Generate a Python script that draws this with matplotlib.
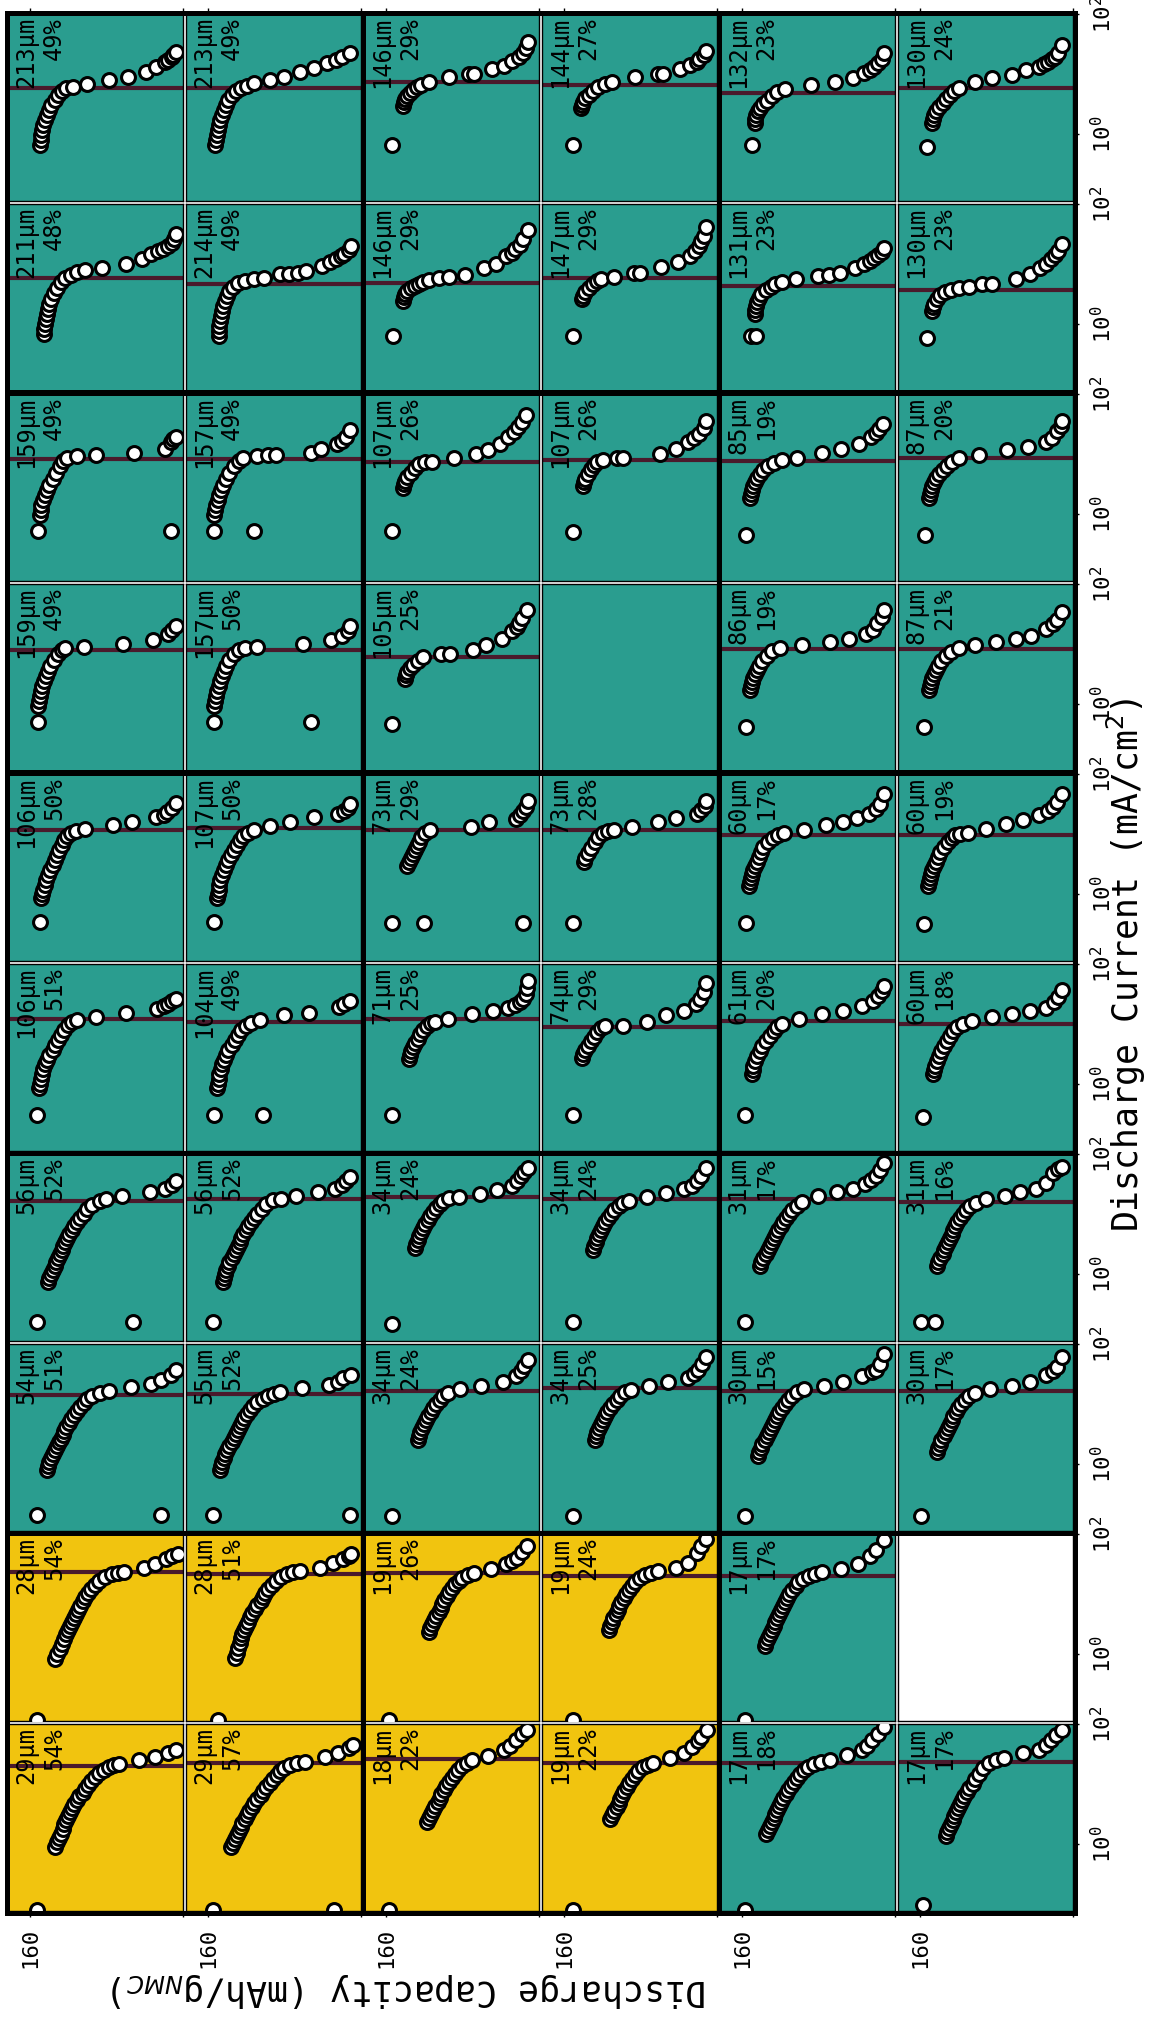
import matplotlib
matplotlib.use("Agg")
import matplotlib.pyplot as plt
from matplotlib.patches import Rectangle
from matplotlib.ticker import NullLocator

plt.rcParams["font.family"] = "DejaVu Sans Mono"

# ---------------------------------------------------------------- data
# grid of panels: 10 rows (top -> bottom) x 6 columns (left -> right)
thickness_um = [
    [213, 213, 146, 144, 132, 130],
    [211, 214, 146, 147, 131, 130],
    [159, 157, 107, 107, 85, 87],
    [159, 157, 105, None, 86, 87],
    [106, 107, 73, 73, 60, 60],
    [106, 104, 71, 74, 61, 60],
    [56, 56, 34, 34, 31, 31],
    [54, 55, 34, 34, 30, 30],
    [28, 28, 19, 19, 17, None],
    [29, 29, 18, 19, 17, 17],
]
percent = [
    [49, 49, 29, 27, 23, 24],
    [48, 49, 29, 29, 23, 23],
    [49, 49, 26, 26, 19, 20],
    [49, 50, 25, None, 19, 21],
    [50, 50, 29, 28, 17, 19],
    [51, 49, 25, 29, 20, 18],
    [52, 52, 24, 24, 17, 16],
    [51, 52, 24, 25, 15, 17],
    [54, 51, 26, 24, 17, None],
    [54, 57, 22, 22, 18, 17],
]
# current marked by the horizontal line in each panel (mA/cm2)
marker_current = [
    [5.84, 5.84, 7.36, 6.56, 4.82, 5.84],
    [5.84, 4.64, 4.82, 5.84, 4.30, 3.69],
    [8.25, 8.25, 7.36, 7.94, 7.64, 8.58],
    [7.94, 7.94, 6.07, None, 8.25, 8.25],
    [11.7, 12.6, 11.7, 11.7, 9.62, 9.62],
    [12.1, 10.8, 12.1, 8.91, 11.2, 10.0],
    [16.5, 17.8, 19.2, 17.8, 17.8, 15.8],
    [14.1, 14.7, 16.5, 18.5, 16.5, 16.5],
    [23.3, 21.5, 22.4, 20.0, 20.0, None],
    [20.0, 22.4, 26.1, 22.4, 22.4, 23.3],
]
# electrode family: "A" teal panels, "B" yellow panels
family = [
    ["A"] * 6, ["A"] * 6, ["A"] * 6, ["A"] * 6, ["A"] * 6,
    ["A"] * 6, ["A"] * 6, ["A"] * 6,
    ["B", "B", "B", "B", "A", None],
    ["B", "B", "B", "B", "A", "A"],
]

# discharge capacity (mAh/g) and discharge current (mA/cm2) per panel
cap_r0c0 = [150, 149, 148, 147, 146, 144, 142, 140, 138, 134, 131, 127, 122, 115, 100, 77, 57, 39, 28, 19, 16, 12, 10, 7]
cur_r0c0 = [0.656, 0.794, 0.962, 1.17, 1.41, 1.71, 2.07, 2.51, 3.04, 3.69, 4.47, 5.21, 5.84, 6.07, 6.81, 7.94, 8.91, 10.8, 13.1, 15.8, 17.1, 19.2, 20.7, 23.3]
cap_r0c1 = [153, 152, 151, 150, 149, 147, 145, 143, 141, 139, 135, 131, 126, 119, 112, 95, 81, 64, 49, 36, 26, 20, 12]
cur_r0c1 = [0.656, 0.794, 0.962, 1.17, 1.41, 1.71, 2.07, 2.51, 3.04, 3.69, 4.47, 5.21, 5.84, 6.31, 7.08, 7.94, 8.91, 10.8, 12.6, 15.3, 17.1, 19.2, 22.4]
cap_r0c2 = [154, 142, 141, 140, 138, 135, 132, 128, 123, 115, 94, 73, 68, 49, 37, 28, 21, 17, 14, 11]
cur_r0c2 = [0.656, 2.93, 3.41, 3.83, 4.30, 4.82, 5.41, 6.07, 6.56, 7.36, 8.91, 10.0, 10.0, 12.1, 13.6, 16.5, 19.2, 22.4, 27.1, 34.1]
cap_r0c3 = [151, 142, 141, 140, 138, 134, 130, 124, 117, 110, 86, 62, 56, 39, 28, 21, 19, 14, 12]
cur_r0c3 = [0.656, 2.71, 3.04, 3.41, 3.98, 4.47, 5.21, 6.07, 6.81, 7.36, 8.91, 10.0, 10.0, 12.1, 14.1, 15.8, 17.8, 20.7, 24.2]
cap_r0c4 = [150, 146, 146, 145, 143, 141, 138, 134, 129, 123, 115, 88, 63, 44, 32, 26, 22, 18, 14, 11]
cur_r0c4 = [0.656, 1.53, 1.78, 2.07, 2.42, 2.71, 3.16, 3.55, 4.30, 5.01, 5.62, 6.56, 7.36, 8.58, 10.4, 11.7, 13.1, 15.3, 17.8, 22.4]
cap_r0c5 = [153, 147, 146, 145, 143, 140, 136, 133, 129, 124, 119, 103, 85, 64, 49, 36, 30, 26, 22, 19, 16, 12]
cur_r0c5 = [0.607, 1.53, 1.78, 2.07, 2.42, 2.82, 3.29, 3.83, 4.47, 5.21, 5.84, 7.36, 8.58, 9.62, 11.7, 13.1, 14.7, 15.8, 17.8, 19.2, 22.4, 30.4]

cap_r1c0 = [145, 145, 144, 143, 142, 141, 140, 138, 135, 132, 128, 123, 117, 111, 103, 85, 60, 43, 33, 26, 21, 16, 12, 9, 7]
cur_r1c0 = [0.681, 0.825, 1.00, 1.21, 1.47, 1.78, 2.15, 2.61, 3.29, 3.98, 5.01, 5.84, 6.56, 7.36, 7.94, 8.58, 10.0, 12.1, 14.7, 16.5, 17.8, 20.0, 22.4, 26.1, 31.6]
cap_r1c1 = [148, 148, 148, 147, 146, 145, 144, 142, 140, 138, 134, 129, 121, 112, 101, 85, 75, 66, 57, 41, 32, 26, 21, 18, 13, 10]
cur_r1c1 = [0.631, 0.764, 0.926, 1.12, 1.36, 1.65, 2.00, 2.42, 2.93, 3.55, 4.14, 4.82, 5.21, 5.62, 5.84, 6.81, 6.81, 7.08, 7.64, 9.26, 10.8, 12.1, 13.6, 14.7, 17.1, 20.0]
cap_r1c2 = [153, 142, 141, 140, 138, 134, 130, 126, 121, 115, 105, 94, 77, 58, 45, 34, 28, 25, 20, 17, 12]
cur_r1c2 = [0.631, 2.42, 2.82, 3.16, 3.55, 3.98, 4.30, 4.64, 5.01, 5.41, 5.84, 6.07, 6.56, 8.58, 10.0, 13.6, 15.3, 17.8, 20.7, 26.1, 36.9]
cap_r1c3 = [151, 141, 140, 138, 134, 130, 126, 121, 108, 87, 80, 59, 41, 28, 23, 19, 17, 14, 12]
cur_r1c3 = [0.631, 2.61, 2.93, 3.41, 3.98, 4.64, 5.21, 5.62, 6.07, 7.08, 7.08, 8.91, 10.8, 13.6, 16.5, 20.0, 24.2, 29.3, 41.4]
cap_r1c4 = [151, 145, 146, 146, 145, 144, 142, 140, 135, 130, 125, 118, 104, 81, 69, 57, 42, 32, 26, 22, 18, 14, 11]
cur_r1c4 = [0.631, 0.631, 1.47, 1.71, 2.00, 2.33, 2.71, 3.16, 3.69, 4.14, 4.64, 5.01, 5.62, 6.31, 6.56, 7.08, 8.58, 10.0, 11.2, 12.6, 14.1, 15.8, 18.5]
cap_r1c5 = [153, 147, 146, 145, 142, 139, 134, 128, 119, 109, 95, 85, 60, 45, 34, 28, 23, 19, 16, 12]
cur_r1c5 = [0.584, 1.65, 1.92, 2.15, 2.61, 3.04, 3.41, 3.69, 3.98, 4.14, 4.64, 4.64, 5.62, 6.81, 8.58, 10.0, 12.1, 14.1, 16.5, 21.5]

cap_r2c0 = [152, 13, 150, 149, 148, 146, 144, 142, 140, 136, 133, 129, 125, 121, 111, 91, 51, 19, 13, 10, 7]
cur_r2c0 = [0.521, 0.521, 0.962, 1.17, 1.41, 1.71, 2.07, 2.51, 3.04, 3.83, 4.82, 6.31, 7.64, 8.58, 9.26, 9.62, 10.4, 12.1, 15.8, 17.8, 19.2]
cap_r2c1 = [154, 112, 154, 153, 152, 150, 148, 146, 144, 141, 138, 133, 128, 123, 109, 97, 89, 52, 42, 25, 20, 16, 11]
cur_r2c1 = [0.521, 0.521, 0.962, 1.17, 1.41, 1.71, 2.07, 2.51, 3.04, 3.83, 4.82, 6.31, 7.64, 8.58, 9.26, 9.62, 9.62, 10.4, 12.1, 14.7, 16.5, 19.2, 25.1]
cap_r2c2 = [154, 142, 141, 140, 138, 134, 130, 126, 119, 112, 89, 66, 53, 41, 32, 26, 22, 18, 14]
cur_r2c2 = [0.521, 2.71, 3.16, 3.55, 4.14, 4.82, 5.84, 6.81, 7.36, 7.36, 8.58, 10.0, 11.7, 14.7, 19.2, 23.3, 28.2, 34.1, 44.7]
cap_r2c3 = [151, 140, 139, 138, 135, 132, 129, 126, 119, 105, 98, 60, 43, 30, 24, 19, 14, 11]
cur_r2c3 = [0.501, 2.93, 3.41, 3.83, 4.64, 5.62, 6.56, 7.36, 7.94, 8.58, 8.58, 10.0, 12.1, 15.8, 18.5, 21.5, 27.1, 35.5]
cap_r2c4 = [156, 152, 151, 150, 148, 146, 144, 141, 138, 133, 127, 118, 102, 76, 56, 38, 25, 20, 17, 13]
cur_r2c4 = [0.447, 1.85, 2.15, 2.51, 2.93, 3.41, 3.98, 4.64, 5.41, 6.31, 7.08, 7.94, 8.58, 10.4, 12.1, 14.7, 19.2, 22.4, 26.1, 31.6]
cap_r2c5 = [155, 151, 150, 149, 147, 145, 143, 140, 136, 132, 127, 119, 98, 69, 47, 28, 22, 17, 13, 11]
cur_r2c5 = [0.447, 1.85, 2.15, 2.51, 2.93, 3.41, 3.98, 4.64, 5.41, 6.31, 7.36, 8.58, 9.62, 11.7, 13.1, 15.8, 18.5, 24.2, 29.3, 35.5]

cap_r3c0 = [152, 152, 151, 150, 148, 147, 145, 143, 141, 139, 135, 131, 127, 123, 104, 63, 31, 16, 11, 7]
cur_r3c0 = [0.501, 0.926, 1.12, 1.36, 1.65, 2.00, 2.42, 2.93, 3.55, 4.30, 5.41, 6.81, 7.94, 8.58, 8.91, 10.0, 11.7, 14.7, 17.1, 20.0]
cap_r3c1 = [154, 52, 154, 153, 152, 151, 149, 147, 145, 143, 141, 138, 133, 128, 121, 109, 61, 31, 20, 14, 11]
cur_r3c1 = [0.501, 0.501, 0.926, 1.12, 1.36, 1.65, 2.00, 2.42, 2.93, 3.55, 4.30, 5.41, 6.81, 7.94, 8.58, 8.91, 10.0, 11.7, 13.6, 16.5, 20.0]
cap_r3c2 = [154, 140, 139, 138, 135, 132, 127, 121, 102, 93, 69, 55, 39, 28, 23, 21, 18, 13]
cur_r3c2 = [0.464, 2.61, 3.04, 3.41, 3.98, 4.47, 5.21, 6.07, 6.81, 6.81, 7.94, 9.62, 12.1, 16.5, 19.2, 22.4, 27.1, 36.9]
cap_r3c4 = [156, 152, 151, 150, 148, 146, 144, 142, 139, 134, 129, 120, 97, 68, 48, 30, 23, 19, 14, 11]
cur_r3c4 = [0.414, 1.71, 2.00, 2.33, 2.71, 3.16, 3.69, 4.30, 5.21, 6.31, 7.64, 8.58, 9.62, 10.8, 12.1, 14.7, 17.1, 22.4, 28.2, 36.9]
cap_r3c5 = [156, 151, 150, 149, 147, 145, 143, 141, 138, 133, 128, 119, 102, 81, 60, 44, 28, 21, 17, 11]
cur_r3c5 = [0.414, 1.71, 2.00, 2.33, 2.71, 3.16, 3.69, 4.30, 5.21, 6.31, 7.36, 8.58, 9.62, 10.8, 12.1, 13.6, 17.8, 21.5, 25.1, 34.1]

cap_r4c0 = [150, 148, 147, 146, 144, 143, 141, 139, 136, 134, 132, 130, 127, 124, 121, 117, 112, 102, 73, 53, 28, 20, 17, 12, 7]
cur_r4c0 = [0.341, 0.858, 1.00, 1.17, 1.41, 1.71, 2.07, 2.51, 3.04, 3.69, 4.47, 5.41, 6.56, 7.94, 9.26, 10.4, 11.2, 12.1, 14.1, 15.8, 19.2, 20.7, 23.3, 27.1, 32.9]
cap_r4c1 = [154, 151, 150, 149, 148, 147, 145, 143, 141, 139, 136, 133, 130, 127, 123, 118, 112, 95, 74, 49, 24, 18, 14, 11]
cur_r4c1 = [0.341, 0.858, 1.00, 1.17, 1.41, 1.71, 2.07, 2.51, 3.04, 3.69, 4.47, 5.41, 6.56, 7.94, 9.26, 10.4, 11.7, 13.6, 15.8, 19.2, 21.5, 24.2, 27.1, 31.6]
cap_r4c2 = [154, 120, 17, 138, 136, 134, 132, 130, 128, 126, 123, 119, 114, 71, 52, 24, 20, 17, 14, 12]
cur_r4c2 = [0.329, 0.329, 0.329, 2.93, 3.41, 3.98, 4.64, 5.41, 6.31, 7.36, 8.91, 10.4, 11.7, 13.1, 15.8, 17.8, 20.7, 24.2, 28.2, 35.5]
cap_r4c3 = [151, 139, 138, 135, 132, 128, 124, 119, 114, 108, 89, 62, 43, 21, 17, 13, 11]
cur_r4c3 = [0.329, 3.41, 3.98, 4.82, 5.84, 7.36, 8.91, 10.4, 11.2, 11.7, 13.1, 15.8, 18.5, 21.5, 25.1, 29.3, 35.5]
cap_r4c4 = [156, 153, 152, 151, 150, 148, 146, 144, 142, 140, 138, 133, 128, 122, 116, 95, 72, 54, 40, 27, 20, 16, 11]
cur_r4c4 = [0.329, 1.36, 1.58, 1.85, 2.15, 2.51, 2.93, 3.41, 4.14, 5.01, 6.07, 7.36, 8.58, 9.62, 10.4, 11.7, 14.1, 15.8, 18.5, 21.5, 26.1, 31.6, 46.4]
cap_r4c5 = [156, 152, 151, 150, 149, 147, 145, 143, 141, 139, 135, 131, 127, 123, 118, 110, 91, 70, 52, 36, 26, 21, 17, 11]
cur_r4c5 = [0.316, 1.36, 1.58, 1.85, 2.15, 2.51, 2.93, 3.41, 4.14, 5.01, 6.07, 7.36, 8.58, 9.62, 10.0, 10.4, 12.1, 14.7, 17.1, 20.7, 24.2, 28.2, 34.1, 46.4]

cap_r5c0 = [153, 151, 150, 149, 147, 146, 144, 142, 140, 136, 134, 131, 128, 124, 120, 116, 111, 91, 60, 27, 20, 16, 11, 7]
cur_r5c0 = [0.304, 0.858, 1.00, 1.21, 1.47, 1.78, 2.15, 2.51, 3.04, 3.69, 4.47, 5.41, 6.56, 7.94, 9.62, 10.8, 11.7, 13.1, 15.3, 17.8, 20.0, 21.5, 24.2, 26.1]
cap_r5c1 = [154, 102, 151, 150, 149, 148, 146, 145, 143, 141, 139, 135, 132, 129, 125, 120, 115, 106, 80, 54, 23, 18, 11]
cur_r5c1 = [0.304, 0.304, 0.858, 1.00, 1.21, 1.47, 1.78, 2.15, 2.51, 3.04, 3.69, 4.47, 5.41, 6.56, 7.94, 9.26, 10.4, 11.7, 14.1, 15.3, 19.2, 21.5, 24.2]
cap_r5c2 = [154, 136, 135, 134, 132, 130, 127, 124, 121, 117, 113, 109, 95, 70, 48, 32, 25, 20, 17, 14, 13, 12]
cur_r5c2 = [0.304, 2.61, 3.04, 3.55, 4.14, 4.82, 5.62, 6.81, 7.94, 9.26, 10.4, 10.8, 12.1, 14.7, 16.5, 18.5, 20.7, 23.3, 26.1, 31.6, 39.8, 52.1]
cap_r5c3 = [151, 141, 140, 138, 135, 132, 129, 125, 121, 117, 98, 73, 53, 35, 22, 18, 14, 12]
cur_r5c3 = [0.304, 2.71, 3.16, 3.69, 4.30, 5.21, 6.07, 7.36, 8.58, 9.26, 9.26, 10.8, 14.1, 16.5, 21.5, 26.1, 34.1, 48.2]
cap_r5c4 = [157, 150, 149, 148, 146, 144, 141, 139, 135, 131, 127, 123, 118, 100, 76, 54, 34, 23, 18, 14, 11]
cur_r5c4 = [0.304, 1.47, 1.71, 2.00, 2.42, 2.93, 3.55, 4.30, 5.21, 6.31, 7.64, 8.91, 10.0, 12.1, 14.7, 16.5, 20.0, 24.2, 29.3, 35.5, 43.0]
cap_r5c5 = [157, 146, 145, 144, 142, 140, 138, 135, 132, 129, 126, 121, 115, 106, 85, 64, 45, 28, 20, 16, 11]
cur_r5c5 = [0.282, 1.47, 1.71, 2.00, 2.42, 2.93, 3.55, 4.30, 5.21, 6.31, 7.64, 8.91, 10.0, 11.2, 13.1, 14.7, 16.5, 18.5, 23.3, 28.2, 36.9]

cap_r6c0 = [153, 52, 141, 140, 138, 136, 134, 133, 131, 129, 127, 125, 123, 121, 119, 116, 114, 111, 108, 104, 100, 95, 87, 80, 64, 34, 19, 12, 7]
cur_r6c0 = [0.158, 0.158, 0.736, 0.858, 1.00, 1.17, 1.36, 1.58, 1.85, 2.15, 2.51, 2.93, 3.41, 3.98, 4.64, 5.41, 6.31, 7.36, 8.58, 10.0, 12.1, 14.1, 16.5, 17.8, 20.0, 23.3, 26.1, 30.4, 35.5]
cap_r6c1 = [155, 144, 143, 142, 141, 139, 138, 135, 133, 131, 129, 127, 125, 123, 120, 118, 115, 112, 109, 104, 99, 92, 84, 68, 45, 27, 20, 16, 11]
cur_r6c1 = [0.158, 0.736, 0.858, 1.00, 1.17, 1.36, 1.58, 1.85, 2.15, 2.51, 2.93, 3.41, 3.98, 4.64, 5.41, 6.31, 7.36, 8.58, 10.0, 12.1, 14.7, 17.1, 17.8, 20.0, 23.3, 26.1, 30.4, 35.5, 41.4]
cap_r6c2 = [154, 130, 129, 127, 125, 123, 121, 119, 116, 114, 111, 108, 104, 100, 94, 84, 62, 44, 28, 23, 19, 16, 12]
cur_r6c2 = [0.147, 2.71, 3.16, 3.69, 4.30, 5.01, 5.84, 6.81, 7.94, 9.26, 10.8, 12.6, 14.7, 16.5, 18.5, 19.2, 21.5, 25.1, 29.3, 35.5, 43.0, 50.1, 58.4]
cap_r6c3 = [151, 130, 129, 127, 125, 123, 121, 119, 117, 114, 111, 108, 103, 98, 92, 73, 53, 35, 26, 21, 17, 12]
cur_r6c3 = [0.158, 2.51, 2.93, 3.41, 3.98, 4.64, 5.41, 6.31, 7.36, 8.58, 10.0, 11.7, 13.6, 15.3, 16.5, 19.2, 22.4, 26.1, 29.3, 35.5, 43.0, 58.4]
cap_r6c4 = [157, 141, 140, 138, 135, 133, 131, 129, 127, 124, 122, 119, 117, 114, 111, 108, 103, 97, 80, 61, 44, 31, 25, 20, 16, 12]
cur_r6c4 = [0.158, 1.36, 1.58, 1.85, 2.15, 2.51, 2.93, 3.41, 3.98, 4.64, 5.41, 6.31, 7.36, 8.58, 10.0, 11.7, 13.6, 15.8, 20.0, 23.3, 26.1, 31.6, 36.9, 43.0, 54.1, 70.8]
cap_r6c5 = [159, 144, 142, 141, 139, 136, 135, 133, 131, 129, 127, 125, 123, 121, 118, 115, 112, 108, 101, 91, 71, 55, 39, 28, 21, 16, 11]
cur_r6c5 = [0.158, 0.158, 1.36, 1.58, 1.85, 2.15, 2.51, 2.93, 3.41, 3.98, 4.64, 5.41, 6.31, 7.36, 8.58, 10.0, 11.7, 13.6, 15.3, 17.8, 20.0, 23.3, 26.1, 32.9, 48.2, 56.2, 60.7]

cap_r7c0 = [153, 23, 142, 141, 140, 138, 136, 134, 132, 130, 128, 126, 124, 122, 119, 117, 114, 111, 108, 104, 100, 95, 87, 77, 54, 33, 23, 13, 7]
cur_r7c0 = [0.141, 0.141, 0.794, 0.926, 1.08, 1.26, 1.47, 1.71, 2.00, 2.33, 2.61, 3.04, 3.55, 4.14, 4.82, 5.62, 6.56, 7.64, 8.91, 10.4, 12.1, 13.6, 15.3, 16.5, 19.2, 21.5, 25.1, 30.4, 36.9]
cap_r7c1 = [155, 12, 147, 146, 145, 143, 142, 140, 138, 135, 133, 131, 129, 127, 124, 122, 119, 116, 113, 109, 103, 97, 91, 85, 62, 33, 24, 19, 10]
cur_r7c1 = [0.141, 0.141, 0.794, 0.926, 1.08, 1.26, 1.47, 1.71, 2.00, 2.33, 2.71, 3.16, 3.69, 4.30, 5.01, 5.84, 6.81, 7.94, 9.26, 10.8, 12.1, 13.6, 14.7, 15.8, 18.5, 20.7, 23.3, 27.1, 30.4]
cap_r7c2 = [154, 127, 126, 124, 122, 120, 118, 116, 113, 111, 108, 104, 100, 95, 83, 61, 38, 24, 19, 16, 12]
cur_r7c2 = [0.136, 2.51, 2.93, 3.41, 3.98, 4.64, 5.41, 6.31, 7.36, 8.58, 10.0, 11.7, 13.6, 15.3, 17.8, 20.0, 23.3, 29.3, 35.5, 43.0, 54.1]
cap_r7c3 = [151, 128, 127, 125, 123, 121, 119, 117, 115, 112, 109, 105, 101, 96, 90, 71, 51, 30, 24, 20, 16, 12]
cur_r7c3 = [0.136, 2.51, 2.93, 3.41, 3.98, 4.64, 5.41, 6.31, 7.36, 8.58, 10.0, 11.7, 13.6, 15.8, 17.1, 20.0, 23.3, 27.1, 31.6, 36.9, 46.4, 60.7]
cap_r7c4 = [157, 143, 142, 140, 139, 136, 134, 132, 130, 128, 126, 123, 121, 118, 115, 112, 108, 102, 95, 74, 54, 34, 24, 20, 16, 11]
cur_r7c4 = [0.136, 1.36, 1.58, 1.85, 2.15, 2.51, 2.93, 3.41, 3.98, 4.64, 5.41, 6.31, 7.36, 8.58, 10.0, 11.7, 13.6, 15.8, 17.8, 20.0, 23.3, 29.3, 34.1, 36.9, 46.4, 68.1]
cap_r7c5 = [159, 142, 141, 139, 138, 135, 133, 131, 129, 127, 125, 122, 120, 117, 113, 109, 103, 87, 64, 45, 28, 21, 17, 11]
cur_r7c5 = [0.136, 1.58, 1.85, 2.15, 2.51, 2.93, 3.41, 3.98, 4.64, 5.41, 6.31, 7.36, 8.58, 10.0, 11.7, 13.6, 15.3, 17.8, 20.0, 23.3, 30.4, 35.5, 41.4, 60.7]

cap_r8c0 = [153, 134, 132, 129, 127, 124, 122, 120, 118, 116, 114, 112, 110, 108, 105, 102, 99, 96, 92, 88, 82, 74, 68, 62, 41, 29, 18, 11, 5]
cur_r8c0 = [0.080, 0.825, 1.00, 1.21, 1.47, 1.78, 2.15, 2.51, 2.93, 3.41, 3.98, 4.64, 5.41, 6.31, 7.64, 8.91, 10.4, 12.1, 14.1, 16.5, 19.2, 21.5, 22.4, 23.3, 27.1, 31.6, 38.3, 43.0, 46.4]
cap_r8c1 = [150, 132, 130, 129, 127, 126, 124, 122, 120, 118, 116, 114, 111, 109, 105, 103, 100, 97, 93, 89, 84, 77, 71, 64, 43, 29, 19, 13, 10]
cur_r8c1 = [0.080, 0.858, 1.04, 1.26, 1.53, 1.85, 2.15, 2.51, 2.93, 3.41, 4.14, 4.82, 5.62, 6.56, 7.64, 8.91, 10.4, 12.1, 14.1, 16.5, 19.2, 21.5, 23.3, 24.2, 27.1, 32.9, 38.3, 43.0, 46.4]
cap_r8c2 = [157, 115, 114, 112, 110, 108, 105, 103, 101, 99, 96, 94, 91, 88, 84, 80, 74, 68, 50, 34, 28, 23, 18, 13]
cur_r8c2 = [0.080, 2.33, 2.71, 3.16, 3.69, 4.30, 5.01, 5.84, 6.81, 7.94, 9.26, 10.8, 12.6, 14.7, 16.5, 18.5, 20.7, 22.4, 26.1, 31.6, 35.5, 39.8, 50.1, 63.1]
cap_r8c3 = [151, 113, 112, 110, 109, 106, 104, 102, 100, 97, 95, 92, 89, 86, 81, 75, 69, 62, 43, 30, 21, 17, 12]
cur_r8c3 = [0.080, 2.51, 2.93, 3.41, 3.98, 4.64, 5.41, 6.31, 7.36, 8.58, 10.0, 11.7, 13.6, 15.8, 18.5, 20.7, 22.4, 24.2, 27.1, 32.9, 48.2, 63.1, 82.5]
cap_r8c4 = [157, 136, 135, 133, 131, 129, 127, 125, 123, 121, 119, 117, 115, 113, 111, 108, 104, 101, 96, 90, 84, 76, 56, 39, 26, 20, 12]
cur_r8c4 = [0.080, 1.36, 1.58, 1.85, 2.15, 2.51, 2.93, 3.41, 3.98, 4.64, 5.41, 6.31, 7.36, 8.58, 10.0, 11.7, 13.6, 15.8, 17.8, 20.0, 21.5, 23.3, 26.1, 31.6, 43.0, 54.1, 79.4]

cap_r9c0 = [153, 134, 132, 130, 128, 126, 124, 122, 120, 118, 116, 114, 111, 109, 105, 102, 99, 96, 92, 88, 83, 77, 72, 67, 46, 29, 16, 7]
cur_r9c0 = [0.080, 0.891, 1.08, 1.26, 1.47, 1.78, 2.15, 2.51, 2.93, 3.41, 3.98, 4.64, 5.41, 6.31, 7.08, 8.25, 9.62, 11.2, 13.1, 15.3, 17.1, 19.2, 20.7, 21.5, 25.1, 28.2, 32.9, 36.9]
cap_r9c1 = [155, 28, 136, 134, 132, 130, 128, 126, 124, 121, 119, 117, 114, 112, 109, 105, 102, 99, 95, 92, 88, 85, 80, 74, 67, 59, 38, 24, 13, 8]
cur_r9c1 = [0.080, 0.080, 0.891, 1.04, 1.21, 1.41, 1.65, 1.92, 2.24, 2.61, 3.04, 3.55, 4.14, 4.82, 5.62, 6.56, 7.64, 8.91, 10.4, 12.1, 14.1, 16.5, 18.5, 20.7, 22.4, 23.3, 28.2, 32.9, 39.8, 44.7]
cap_r9c2 = [157, 117, 115, 113, 111, 109, 106, 104, 102, 99, 97, 94, 91, 88, 85, 81, 75, 70, 53, 37, 30, 24, 18, 13]
cur_r9c2 = [0.080, 2.33, 2.71, 3.16, 3.69, 4.30, 5.01, 5.84, 6.81, 7.94, 9.26, 10.8, 12.6, 14.7, 17.1, 20.0, 22.4, 25.1, 29.3, 36.9, 43.0, 54.1, 68.1, 79.4]
cap_r9c3 = [151, 112, 110, 108, 105, 103, 101, 99, 97, 94, 92, 89, 86, 83, 77, 72, 67, 49, 35, 26, 20, 17, 10]
cur_r9c3 = [0.080, 2.61, 3.04, 3.55, 4.14, 4.82, 5.62, 6.56, 7.64, 8.91, 10.4, 12.1, 14.1, 16.5, 19.2, 20.7, 22.4, 27.1, 32.9, 41.4, 52.1, 60.7, 79.4]
cap_r9c4 = [157, 135, 133, 131, 129, 127, 125, 123, 121, 119, 117, 114, 112, 109, 106, 103, 99, 95, 91, 85, 77, 68, 50, 35, 29, 24, 18, 11]
cur_r9c4 = [0.080, 1.47, 1.71, 2.00, 2.33, 2.71, 3.16, 3.69, 4.30, 5.01, 5.84, 6.81, 7.94, 9.26, 10.8, 12.6, 14.7, 17.1, 19.2, 21.5, 23.3, 25.1, 30.4, 36.9, 43.0, 54.1, 68.1, 89.1]
cap_r9c5 = [157, 133, 132, 130, 128, 126, 124, 122, 120, 118, 116, 114, 111, 109, 105, 102, 98, 94, 88, 81, 72, 52, 36, 28, 23, 18, 12]
cur_r9c5 = [0.096, 1.36, 1.58, 1.85, 2.15, 2.51, 2.93, 3.41, 3.98, 4.64, 5.41, 6.31, 7.36, 8.58, 10.0, 12.1, 14.7, 18.5, 22.4, 25.1, 27.1, 32.9, 36.9, 44.7, 54.1, 65.6, 79.4]

curves = {name[4:]: (val, globals()["cur_" + name[4:]])
          for name, val in list(globals().items()) if name.startswith("cap_r")}

# ---------------------------------------------------------------- style
TEAL = "#2a9d8f"
YELLOW = "#f1c40f"
MAROON = "#4a1a2c"
FACE = {"A": TEAL, "B": YELLOW, None: "white"}

W, H = 1150, 2018
fig = plt.figure(figsize=(W / 100, H / 100), dpi=100)

TILE_W, TILE_H = 175, 187
COL_X = [8 + 178 * c for c in range(6)]
ROW_Y = [14 + 190 * r for r in range(10)]


def fig_box(x, y, w, h):
    return [x / W, 1 - (y + h) / H, w / W, h / H]


for r in range(10):
    for c in range(6):
        ax = fig.add_axes(fig_box(COL_X[c], ROW_Y[r], TILE_W, TILE_H))
        ax.set_facecolor(FACE[family[r][c]])
        ax.set_yscale("log")
        ax.set_xlim(183, 0)
        ax.set_ylim(0.0764, 100)
        ax.set_xticks([0, 160])
        ax.set_xticklabels(["", "160"])
        ax.set_yticks([1, 100])
        ax.yaxis.set_minor_locator(NullLocator())
        for sp in ax.spines.values():
            sp.set_linewidth(1.0)
        ax.tick_params(which="both", bottom=False, top=False, left=False, right=False,
                       labelbottom=False, labeltop=False, labelleft=False, labelright=False,
                       direction="out", length=4.5, width=1.0, labelsize=16, pad=8)
        if r == 0:
            ax.tick_params(axis="x", top=True)
        if r == 9:
            ax.tick_params(axis="x", bottom=True, labelbottom=True, labelrotation=90)
        if c == 5:
            ax.tick_params(axis="y", right=True, labelright=True, labelrotation=90)
            for lab in ax.get_yticklabels():
                lab.set_va("center")

        key = f"r{r}c{c}"
        if key not in curves:
            continue
        cap, cur = curves[key]
        ax.axhline(marker_current[r][c], color=MAROON, lw=3, zorder=1)
        ax.plot(cap, cur, ls="none", marker="o", ms=10, mfc="white", mec="black",
                mew=2.2, zorder=3)
        ax.annotate(f"{thickness_um[r][c]}µm\n{percent[r][c]}%", xy=(0, 1),
                    xycoords="axes fraction", xytext=(4.5, -2), textcoords="offset points",
                    rotation=90, ha="left", va="top", multialignment="right",
                    fontsize=17, zorder=4)

# thick frames around each 2 x 2 block
for g in range(3):
    for k in range(5):
        x0 = COL_X[2 * g] - 1.5
        x1 = COL_X[2 * g + 1] + TILE_W + 1.5
        y0 = ROW_Y[2 * k] - 1.5
        y1 = ROW_Y[2 * k + 1] + TILE_H + 1.5
        fig.add_artist(Rectangle((x0 / W, 1 - y1 / H), (x1 - x0) / W, (y1 - y0) / H,
                                 transform=fig.transFigure, fill=False,
                                 ec="black", lw=3.6, zorder=5))

fig.text(1126 / W, 1 - 965 / H, "Discharge Current (mA/cm$^2$)", rotation=90,
         ha="center", va="center", fontsize=25)
fig.text(409 / W, 1 - 1990 / H, "Discharge Capacity (mAh/g$_{NMC}$)", rotation=180,
         ha="center", va="center", fontsize=25)

fig.savefig("out.png", dpi=100)
